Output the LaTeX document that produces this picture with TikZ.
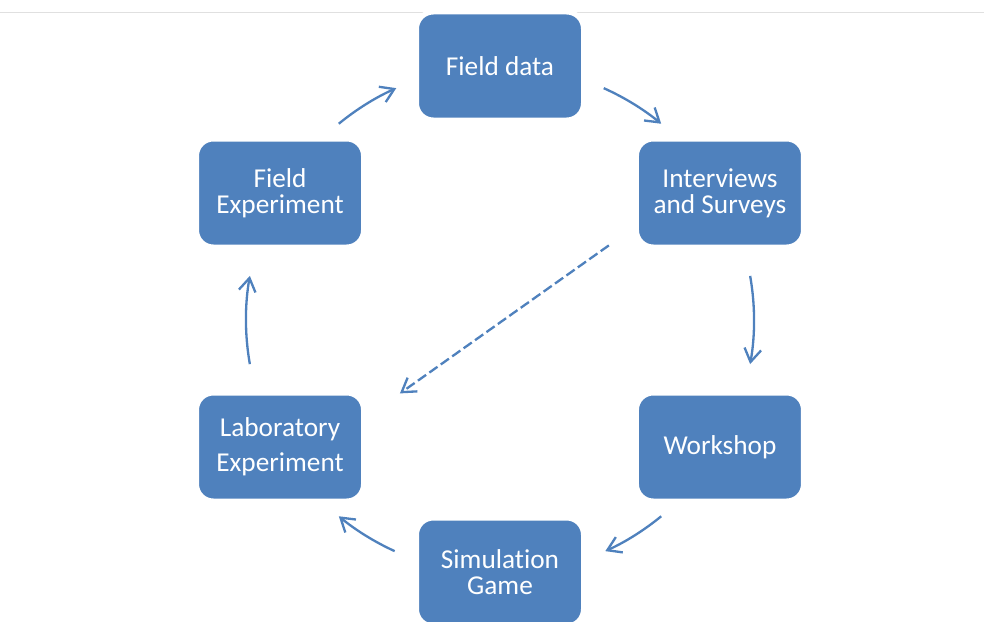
\documentclass[tikz,border=0pt]{standalone}
\usepackage{fontspec}
\setmainfont{Carlito}[Ligatures=NoCommon]
\usetikzlibrary{arrows.meta}
\definecolor{boxblue}{RGB}{79,129,189}

\begin{document}
\begin{tikzpicture}[
		box/.style={fill=boxblue, draw=white, line width=0.125cm, outer sep=0pt,
			rounded corners=0.42cm, minimum width=4.175cm, minimum height=2.7cm,
			align=center, text=white, font=\fontsize{19.4}{18.6}\selectfont},
		flow/.style={color=boxblue, line width=0.058cm,
			-{Straight Barb[length=0.33cm, width=0.42cm]}},
	]
		\useasboundingbox (-12.5, -7.525) rectangle (12.1, 8);
		% linea grigia in alto
		\draw[color=black!12, line width=0.025cm] (-12.5, 7.68) -- (12.1, 7.68);
		% centro del ciclo
		\coordinate (hub) at (0, 0);
		% riquadri
		\node[box] (fielddata) at (90:6.35) {Field data};
		\node[box] (interviews) at (30:6.35) {Interviews\\and Surveys};
		\node[box] (workshop) at (-30:6.35) {Workshop};
		\node[box] (simgame) at (-90:6.3) {Simulation\\Game};
		\node[box] (labexp) at (-150:6.35) {Laboratory\\[6.5pt]Experiment};
		\node[box] (fieldexp) at (150:6.35) {Field\\Experiment};
		% frecce del ciclo
		\foreach \a/\b in {129.4/114.1, 65.9/50.6, 10/-10, -50.6/-65.5, -114.5/-129.4, 190/170}
			\draw[flow] ([shift={(\a:6.35)}]hub) arc[start angle=\a, end angle=\b, radius=6.35];
		% freccia tratteggiata
		\draw[flow, dash pattern=on 0.25cm off 0.1cm]
		([shift={(-0.69, 0.04)}]interviews.south west) --
		([shift={(0.91, -0.01)}]labexp.north east);
\end{tikzpicture}
\end{document}
